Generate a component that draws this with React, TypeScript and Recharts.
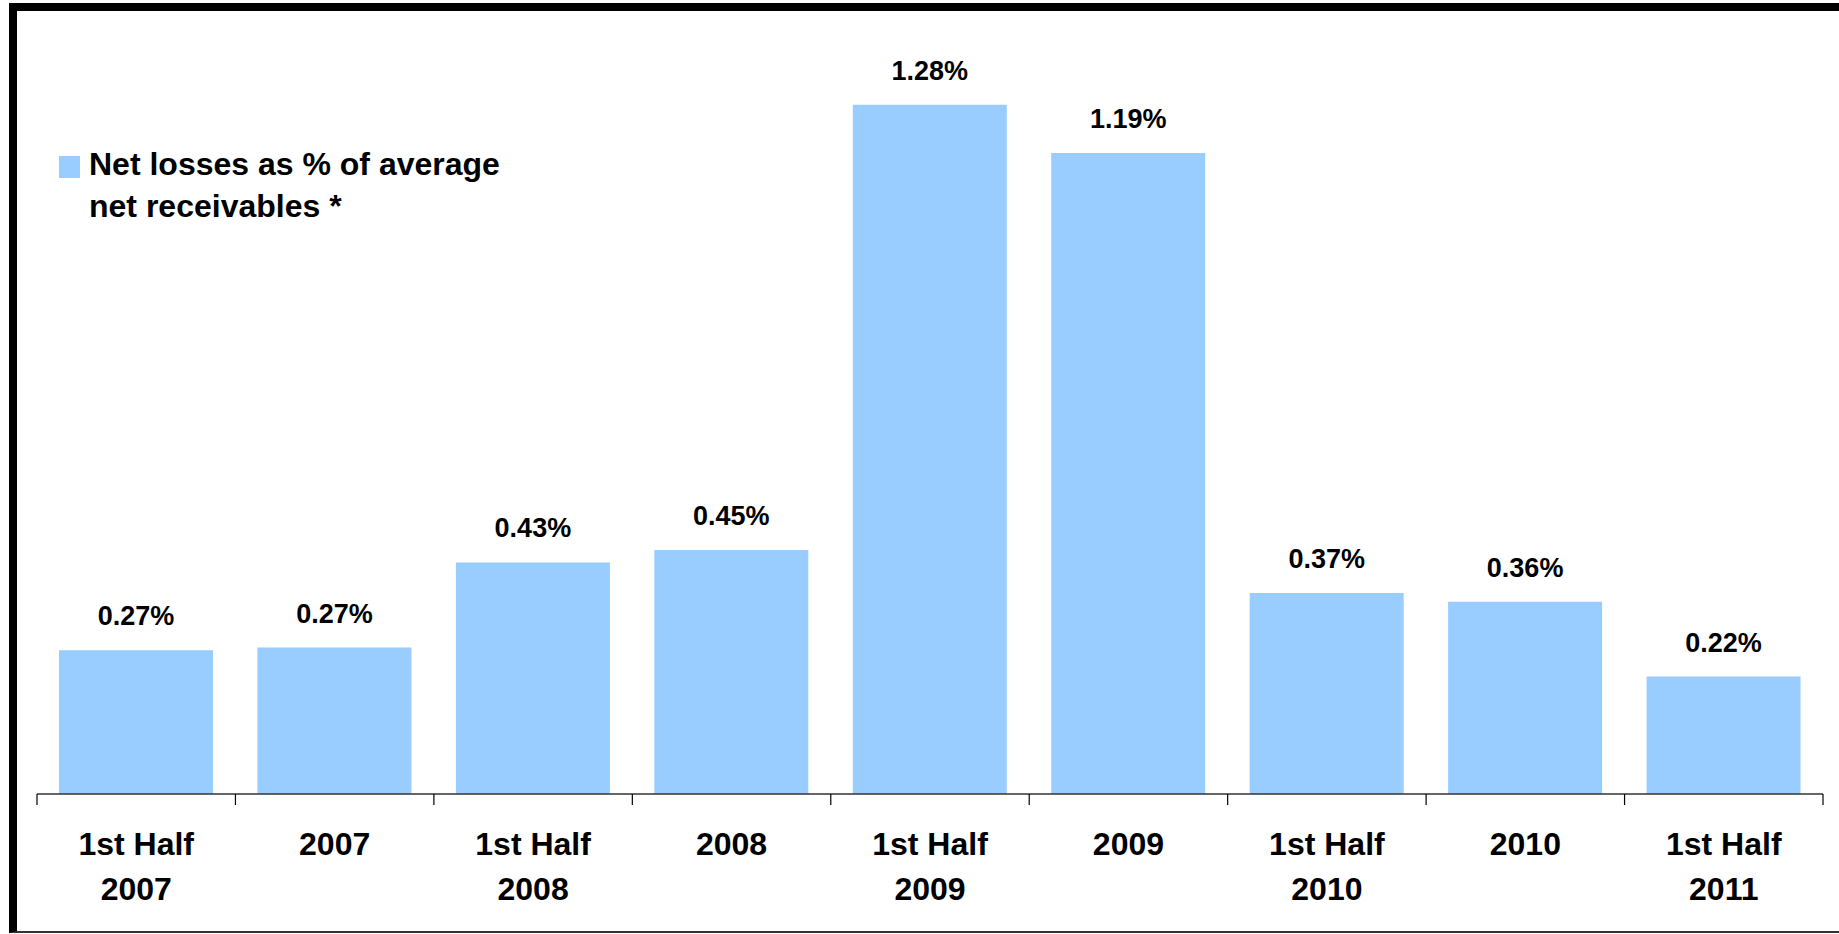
import React from "react";
import { BarChart, Bar, XAxis, YAxis, LabelList, Legend } from "recharts";

const categories = [
  "1st Half 2007",
  "2007",
  "1st Half 2008",
  "2008",
  "1st Half 2009",
  "2009",
  "1st Half 2010",
  "2010",
  "1st Half 2011",
];
const netLossPct = [0.267, 0.272, 0.43, 0.453, 1.28, 1.19, 0.373, 0.357, 0.218];
const seriesName = "Net losses as % of average net receivables *";

const data = categories.map((period, i) => ({ period, value: netLossPct[i] }));

const W = 1839;
const H = 934;
const margin = { top: 40, right: 16, bottom: 40, left: 37 };
const band = (W - margin.left - margin.right) / categories.length;
const font = '"Liberation Sans", Arial, Helvetica, sans-serif';
const barColor = "#99CCFF";

function CategoryTick(props: any) {
  const { x, y, payload, index } = props;
  const m = String(payload.value).match(/^(1st Half) (\d{4})$/);
  const lines = m ? [m[1], m[2]] : [payload.value];
  return (
    <g>
      <line x1={x - band / 2} x2={x - band / 2} y1={y} y2={y + 11} stroke="#000" strokeWidth={1.2} />
      {index === categories.length - 1 && (
        <line x1={x + band / 2} x2={x + band / 2} y1={y} y2={y + 11} stroke="#000" strokeWidth={1.2} />
      )}
      <text
        x={x}
        y={y + 61}
        textAnchor="middle"
        fontFamily={font}
        fontWeight={700}
        fontSize={32}
        fill="#000"
      >
        {lines.map((l, i) => (
          <tspan key={i} x={x} dy={i === 0 ? 0 : 45}>
            {l}
          </tspan>
        ))}
      </text>
    </g>
  );
}

function LegendBox() {
  return (
    <div
      style={{
        position: "relative",
        width: 480,
        fontFamily: font,
        fontWeight: 700,
        fontSize: 32,
        lineHeight: "42px",
        color: "#000",
        textAlign: "left",
      }}
    >
      <span
        style={{
          position: "absolute",
          left: 0,
          top: 13,
          width: 21,
          height: 22,
          background: barColor,
        }}
      />
      <div style={{ paddingLeft: 30 }}>
        Net losses as % of average
        <br />
        net receivables *
      </div>
    </div>
  );
}

export default function App() {
  return (
    <div style={{ position: "absolute", left: 0, top: 0, width: W, height: H, background: "#fff" }}>
      <div
        style={{
          position: "absolute",
          left: 9,
          top: 3,
          width: W - 9,
          height: 930,
          boxSizing: "border-box",
          borderTop: "8px solid #000",
          borderLeft: "8px solid #000",
          borderBottom: "2px solid #333",
        }}
      />
      <div style={{ position: "absolute", left: 0, top: 0 }}>
        <BarChart width={W} height={H} data={data} margin={margin} barSize={154}>
          <XAxis
            dataKey="period"
            height={100}
            interval={0}
            tickLine={false}
            tickSize={0}
            tickMargin={0}
            axisLine={{ stroke: "#333", strokeWidth: 1.5 }}
            tick={<CategoryTick />}
          />
          <YAxis hide domain={[0, 1.4]} />
          <Legend
            layout="horizontal"
            verticalAlign="middle"
            align="center"
            wrapperStyle={{ left: 59, top: 143, width: 480 }}
            content={() => <LegendBox />}
          />
          <Bar dataKey="value" name={seriesName} fill={barColor} isAnimationActive={false}>
            <LabelList
              dataKey="value"
              position="top"
              offset={25}
              formatter={(v: any) => `${Number(v).toFixed(2)}%`}
              style={{ fontFamily: font, fontWeight: 700, fontSize: 27, fill: "#000" }}
            />
          </Bar>
        </BarChart>
      </div>
    </div>
  );
}
